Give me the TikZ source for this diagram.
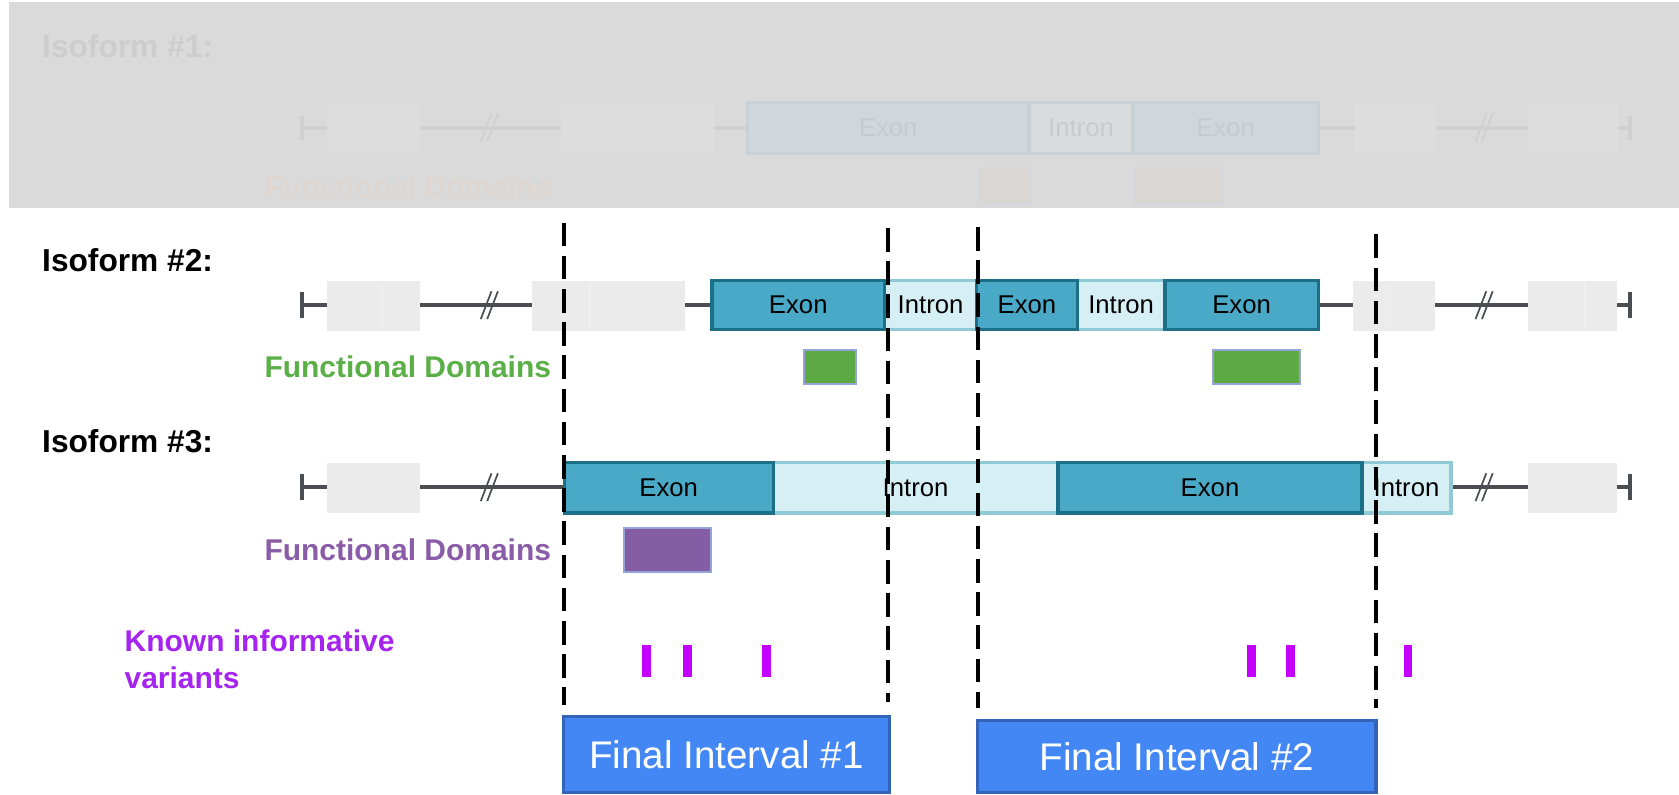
\documentclass[tikz,border=0pt]{standalone}
\usepackage{fontspec}
\setmainfont{Liberation Sans}
\definecolor{exonfill}{HTML}{4BA9C8}
\definecolor{exonline}{HTML}{1B6F86}
\definecolor{intronfill}{HTML}{D6EFF4}
\definecolor{intronline}{HTML}{8FCAD6}
\definecolor{graybox}{HTML}{EBEBEB}
\definecolor{bbcol}{HTML}{4A4E52}
\definecolor{fdgreen}{HTML}{5BAF47}
\definecolor{greenbox}{HTML}{5DA944}
\definecolor{domline}{HTML}{94A3D8}
\definecolor{fdpurple}{HTML}{8A5CA8}
\definecolor{purplebox}{HTML}{855DA5}
\definecolor{vartext}{HTML}{A524F0}
\definecolor{vartick}{HTML}{C300FF}
\definecolor{intfill}{HTML}{4387F5}
\definecolor{intline}{HTML}{3464BA}
\definecolor{ovl}{HTML}{DADADA}
\definecolor{fadetext}{HTML}{CDCDCD}
\definecolor{fadeline}{HTML}{D0D0D0}
\definecolor{fadebox}{HTML}{DDDDDD}
\definecolor{fadeexon}{HTML}{CFD7DB}
\definecolor{fadeexonline}{HTML}{C8D2D6}
\definecolor{fadeintron}{HTML}{D8DCDD}
\definecolor{fadeword}{HTML}{C6CBCD}
\definecolor{fadefd}{HTML}{DED6D0}
\definecolor{fadefdbox}{HTML}{DAD6D3}
\definecolor{fadefdline}{HTML}{D4D7DB}
\newcommand\blk[7]{\node[#1, minimum width={(#4-#3)*0.5pt}, minimum height={(#6-#5)*0.5pt}] (#2) at ({(#3+#4)/2},{(#5+#6)/2}) {#7};}
\tikzset{
  seg/.style={inner sep=0pt, outer sep=0pt, font=\fontsize{12}{14}\selectfont},
  exon/.style={seg, draw=exonline, fill=exonfill, line width=1.5pt},
  intron/.style={seg, draw=intronline, fill=intronfill, line width=1.5pt},
  gbox/.style={seg, fill=graybox},
  fexon/.style={seg, draw=fadeexonline, fill=fadeexon, line width=1.5pt, text=fadeword},
  fintron/.style={seg, draw=fadeexonline, fill=fadeintron, line width=1.5pt, text=fadeword},
  fgbox/.style={seg, fill=fadebox},
  backbone/.style={draw=bbcol, line width=2pt},
  slashmark/.style={draw=bbcol, line width=0.8pt},
  label/.style={inner sep=0pt, anchor=base west, font=\fontsize{14}{17}\selectfont\bfseries},
  isolabel/.style={label, font=\fontsize{14.8}{17}\selectfont\bfseries},
  dombox/.style={seg, draw=domline, line width=1pt},
  vdash/.style={draw=black, line width=2pt, dash pattern=on 11pt off 4.5pt},
  vtick/.style={seg, fill=vartick, minimum width=4pt, minimum height=15pt},
  interval/.style={seg, draw=intline, fill=intfill, line width=1.5pt, text=white, font=\fontsize{18}{20}\selectfont},
  divider/.style={draw=white, opacity=0.25, line width=0.5pt}
}
\begin{document}
\begin{tikzpicture}[x=0.5pt,y=-0.5pt]
\useasboundingbox (0,0) rectangle (1568,742);
\fill[white] (0,0) rectangle (1568,742);
% ---------- Isoform 1 (faded) ----------
\fill[ovl] (8,2) rectangle (1568,194);
\node[isolabel, text=fadetext] (lab1) at (39,54) {Isoform \#1:};
\coordinate (s1) at (282,119.5);
\coordinate (t1) at (1522,119.5);
\draw[draw=fadeline, line width=2pt] (s1) -- (t1);
\draw[draw=fadeline, line width=2pt] (282,108) -- (282,131);
\draw[draw=fadeline, line width=2pt] (1522,108) -- (1522,131);
\blk{fgbox}{g1a}{305}{392}{96}{142}{}
\blk{fgbox}{g1b}{524}{667}{96}{142}{}
\blk{fgbox}{g1c}{1265}{1341}{96}{142}{}
\blk{fgbox}{g1d}{1427}{1511}{96}{142}{}
\draw[draw=fadeline, line width=0.8pt] (449,132) -- (459,106) (455,132) -- (465,106);
\draw[draw=fadeline, line width=0.8pt] (1378,132) -- (1388,106) (1384,132) -- (1394,106);
\blk{fintron}{i1}{961}{1058}{96}{143}{Intron}
\blk{fexon}{e1a}{698}{961}{96}{143}{Exon}
\blk{fexon}{e1b}{1058}{1231}{96}{143}{Exon}
\node[label, text=fadefd, anchor=base east] (fd1) at (515,184) {Functional Domains};
\blk{seg, fill=fadefdbox, draw=fadefdline, line width=1pt}{d1a}{914}{963}{157}{191}{}
\blk{seg, fill=fadefdbox, draw=fadefdline, line width=1pt}{d1b}{1059}{1141}{157}{191}{}
% ---------- Isoform 2 ----------
\node[isolabel] (lab2) at (39,254) {Isoform \#2:};
\coordinate (s2) at (282,285);
\coordinate (t2) at (1522,285);
\draw[backbone] (s2) -- (t2);
\draw[backbone] (282,273) -- (282,297);
\draw[backbone] (1522,273) -- (1522,297);
\blk{gbox}{g2a}{305}{392}{262}{309}{}
\blk{gbox}{g2b}{497}{640}{262}{309}{}
\blk{gbox}{g2c}{1264}{1340}{262}{309}{}
\blk{gbox}{g2d}{1427}{1510}{262}{309}{}
\draw[divider] (357,262) -- (357,309);
\draw[divider] (551,262) -- (551,309);
\draw[divider] (1295,262) -- (1295,309);
\draw[divider] (1480,262) -- (1480,309);
\draw[slashmark] (449,298) -- (459,272) (455,298) -- (465,272);
\draw[slashmark] (1378,298) -- (1388,272) (1384,298) -- (1394,272);
\blk{intron}{i2a}{826}{912}{262}{308}{Intron}
\blk{intron}{i2b}{1006}{1088}{262}{308}{Intron}
\blk{exon}{e2a}{665}{826}{262}{308}{Exon}
\blk{exon}{e2b}{912}{1006}{262}{308}{Exon}
\blk{exon}{e2c}{1088}{1231}{262}{308}{Exon}
\node[label, text=fdgreen, anchor=base east] (fd2) at (515,353) {Functional Domains};
\blk{dombox, fill=greenbox}{d2a}{751}{799}{327}{359}{}
\blk{dombox, fill=greenbox}{d2b}{1133}{1214}{327}{359}{}
% ---------- Isoform 3 ----------
\node[isolabel] (lab3) at (39,423) {Isoform \#3:};
\coordinate (s3) at (282,455);
\coordinate (t3) at (1522,455);
\draw[backbone] (s3) -- (t3);
\draw[backbone] (282,443) -- (282,467);
\draw[backbone] (1522,443) -- (1522,467);
\blk{gbox}{g3a}{305}{392}{432}{479}{}
\blk{gbox}{g3b}{1427}{1510}{432}{479}{}
\draw[slashmark] (449,468) -- (459,442) (455,468) -- (465,442);
\draw[slashmark] (1378,468) -- (1388,442) (1384,468) -- (1394,442);
\blk{intron}{i3a}{722}{988}{432}{479}{Intron}
\blk{intron}{i3b}{1272}{1355}{432}{479}{Intron}
\blk{exon}{e3a}{527}{722}{432}{479}{Exon}
\blk{exon}{e3b}{988}{1272}{432}{479}{Exon}
\node[label, text=fdpurple, anchor=base east] (fd3) at (515,523) {Functional Domains};
\blk{dombox, fill=purplebox}{d3a}{583}{664}{493}{534}{}
% ---------- variants ----------
\node[label, text=vartext, anchor=north west, align=left] (varlab) at (116,588) {Known informative\\variants};
\node[vtick] (v1) at (604,617.5) {};
\node[vtick] (v2) at (642,617.5) {};
\node[vtick] (v3) at (716,617.5) {};
\node[vtick] (v4) at (1169,617.5) {};
\node[vtick] (v5) at (1205,617.5) {};
\node[vtick] (v6) at (1315,617.5) {};
% ---------- dashed boundaries ----------
\coordinate (a1) at (527,208); \coordinate (b1) at (527,658);
\coordinate (a2) at (829,213); \coordinate (b2) at (829,656);
\coordinate (a3) at (913,212); \coordinate (b3) at (913,661);
\coordinate (a4) at (1285,219); \coordinate (b4) at (1285,661);
\draw[vdash] (a1) -- (b1);
\draw[vdash] (a2) -- (b2);
\draw[vdash] (a3) -- (b3);
\draw[vdash] (a4) -- (b4);
% ---------- final intervals ----------
\blk{interval}{f1}{526}{831}{669}{740}{Final Interval \#1}
\blk{interval}{f2}{913}{1285}{673}{740}{Final Interval \#2}
\end{tikzpicture}
\end{document}
